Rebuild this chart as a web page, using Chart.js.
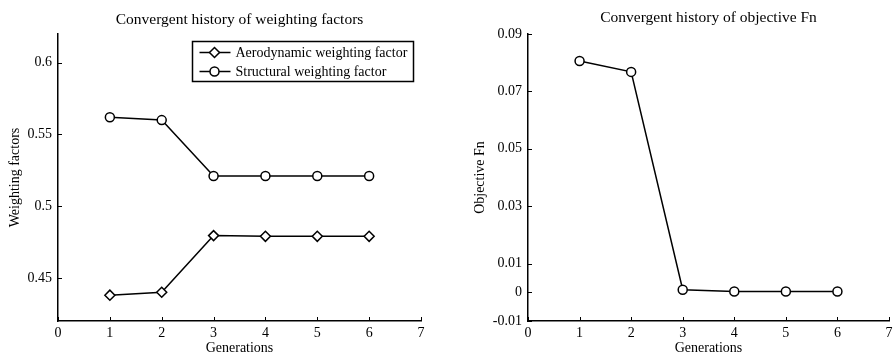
<!DOCTYPE html>
<html>
<head>
<meta charset="utf-8">
<script src="https://cdn.jsdelivr.net/npm/chart.js@4.4.1/dist/chart.umd.min.js"></script>
<style>
  html, body { margin: 0; padding: 0; background: #fff; }
  #wrap { position: relative; width: 895px; height: 354px; }
  .box { position: absolute; top: 0; height: 354px; }
  #leftBox { left: 0; width: 450px; }
  #rightBox { left: 450px; width: 445px; }
</style>
</head>
<body>
<div id="wrap">
  <div class="box" id="leftBox"><canvas id="weightChart"></canvas></div>
  <div class="box" id="rightBox"><canvas id="objChart"></canvas></div>
</div>
<script>
/* --------------- Data --------------------- */
const generations = [1, 2, 3, 4, 5, 6];
const aeroWeights = [0.438, 0.440, 0.4795, 0.479, 0.479, 0.479];
const structWeights = [0.562, 0.560, 0.521, 0.521, 0.521, 0.521];
const objectiveFn = [0.0806, 0.0768, 0.0009, 0.0003, 0.0003, 0.0003];
const xTicks = [0, 1, 2, 3, 4, 5, 6, 7];
const weightTicks = [0.45, 0.5, 0.55, 0.6];
const objTicks = [-0.01, 0, 0.01, 0.03, 0.05, 0.07, 0.09];

const serif = "'Liberation Serif', 'Times New Roman', serif";
Chart.defaults.font.family = serif;
Chart.defaults.font.size = 14;
Chart.defaults.color = "#000";
Chart.defaults.animation = false;

const toPoints = (ys) => generations.map((g, i) => ({ x: g, y: ys[i] }));

/* --------------- Inward tick marks (matlab style) --------------------- */
const innerTicks = {
  id: "innerTicks",
  afterDraw(chart) {
    const ctx = chart.ctx;
    const a = chart.chartArea;
    ctx.save();
    ctx.strokeStyle = "#000";
    ctx.lineWidth = 1;
    ctx.beginPath();
    chart.scales.x.ticks.forEach((t) => {
      const px = Math.round(chart.scales.x.getPixelForValue(t.value)) + 0.5;
      ctx.moveTo(px, a.bottom);
      ctx.lineTo(px, a.bottom - 4);
    });
    chart.scales.y.ticks.forEach((t) => {
      const py = Math.round(chart.scales.y.getPixelForValue(t.value)) + 0.5;
      ctx.moveTo(a.left, py);
      ctx.lineTo(a.left + 4, py);
    });
    ctx.stroke();
    ctx.restore();
  },
};

/* --------------- Boxed legend inside the plot --------------------- */
const boxLegend = {
  id: "boxLegend",
  afterDraw(chart) {
    const ctx = chart.ctx;
    const a = chart.chartArea;
    const sets = chart.data.datasets;
    ctx.save();
    ctx.font = "14px " + serif;
    const textW = Math.max(...sets.map((d) => ctx.measureText(d.label).width));
    const w = Math.round(textW + 49);
    const h = 40;
    const x0 = Math.round(a.right - 8 - w) + 0.5;
    const y0 = Math.round(a.top + 7) + 0.5;
    ctx.fillStyle = "#fff";
    ctx.fillRect(x0, y0, w, h);
    ctx.strokeStyle = "#000";
    ctx.lineWidth = 1.5;
    ctx.strokeRect(x0, y0, w, h);
    sets.forEach((d, i) => {
      const cy = y0 + 11 + i * 19;
      ctx.lineWidth = 1.5;
      ctx.strokeStyle = "#000";
      ctx.beginPath();
      ctx.moveTo(x0 + 7, cy);
      ctx.lineTo(x0 + 38, cy);
      ctx.stroke();
      ctx.fillStyle = "#fff";
      Chart.helpers.drawPoint(ctx, {
        pointStyle: d.pointStyle,
        radius: d.pointRadius,
        borderWidth: d.pointBorderWidth,
      }, x0 + 22, cy);
      ctx.fillStyle = "#000";
      ctx.textBaseline = "middle";
      ctx.textAlign = "left";
      ctx.fillText(d.label, x0 + 43, cy + 1);
    });
    ctx.restore();
  },
};

function fixedTicks(list) {
  return (scale) => {
    scale.ticks = list.map((v) => ({ value: v }));
  };
}

function makeOptions(cfg) {
  return {
    responsive: true,
    maintainAspectRatio: false,
    layout: { padding: { top: 0, right: cfg.padRight, bottom: 0, left: 0 } },
    plugins: {
      legend: { display: false },
      tooltip: { enabled: false },
      title: {
        display: true,
        text: cfg.title,
        fullSize: false,
        font: { size: 15.5, weight: "normal", lineHeight: 1.2 },
        padding: { top: cfg.titleTop, bottom: 15.4 - cfg.titleTop },
      },
    },
    scales: {
      x: {
        type: "linear",
        min: 0,
        max: 7,
        afterBuildTicks: fixedTicks(xTicks),
        afterFit: (s) => { s.height = 33; s.paddingLeft = 0; s.paddingRight = 0; },
        grid: { display: false, drawTicks: false },
        border: { display: true, color: "#000", width: 1.5 },
        ticks: { padding: 4, maxRotation: 0, autoSkip: false, font: { size: 14 } },
        title: { display: true, text: "Generations", font: { size: 14, lineHeight: 0.85 }, padding: 0 },
      },
      y: {
        min: cfg.yMin,
        max: cfg.yMax,
        afterBuildTicks: fixedTicks(cfg.yTicks),
        afterFit: (s) => { s.width = cfg.yWidth; },
        grid: { display: false, drawTicks: false },
        border: { display: true, color: "#000", width: 1.5 },
        ticks: { padding: 6, autoSkip: false, callback: (v) => String(v), font: { size: 14 } },
        title: { display: true, text: cfg.yTitle, font: { size: 14 }, padding: { top: cfg.yTitlePad, bottom: 0 } },
      },
    },
  };
}

const lineStyle = {
  borderColor: "#000",
  borderWidth: 1.5,
  pointBackgroundColor: "#fff",
  pointBorderColor: "#000",
  pointBorderWidth: 1.5,
  showLine: true,
  tension: 0,
};

/* --------------- Left chart --------------------- */
new Chart(document.getElementById("weightChart"), {
  type: "scatter",
  plugins: [innerTicks, boxLegend],
  data: {
    datasets: [
      { ...lineStyle, label: "Aerodynamic weighting factor", data: toPoints(aeroWeights), pointStyle: "rectRot", pointRadius: 5 },
      { ...lineStyle, label: "Structural weighting factor", data: toPoints(structWeights), pointStyle: "circle", pointRadius: 4.5 },
    ],
  },
  options: makeOptions({
    title: "Convergent history of weighting factors",
    titleTop: 11,
    padRight: 29,
    yMin: 0.42,
    yMax: 0.62,
    yTicks: weightTicks,
    yWidth: 58,
    yTitle: "Weighting factors",
    yTitlePad: 7,
  }),
});

/* --------------- Right chart --------------------- */
new Chart(document.getElementById("objChart"), {
  type: "scatter",
  plugins: [innerTicks],
  data: {
    datasets: [
      { ...lineStyle, label: "Objective Fn", data: toPoints(objectiveFn), pointStyle: "circle", pointRadius: 4.5 },
    ],
  },
  options: makeOptions({
    title: "Convergent history of objective Fn",
    titleTop: 9,
    padRight: 3,
    yMin: -0.01,
    yMax: 0.09,
    yTicks: objTicks,
    yWidth: 78,
    yTitle: "Objective Fn",
    yTitlePad: 22,
  }),
});
</script>
</body>
</html>
